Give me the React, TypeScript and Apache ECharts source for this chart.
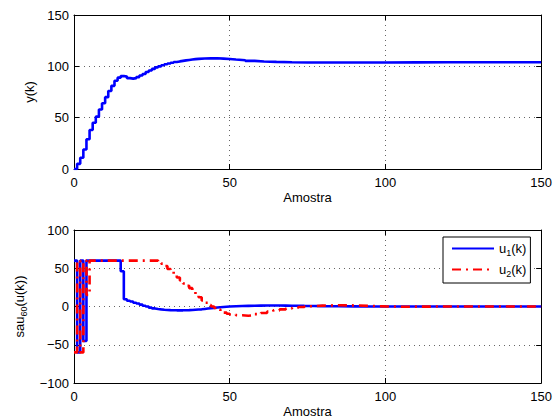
import React, { useEffect, useRef } from "react";
import * as echarts from "echarts";

// ---- Data ----
const xTicks = [0, 50, 100, 150];

const kTop = [
  0, 1, 2, 3, 4, 5, 6, 7, 8, 9, 10, 11, 12, 13, 14, 15, 16, 17, 18, 19, 20,
  21, 22, 23, 24, 25, 26, 27, 28, 29, 30, 31, 32, 33, 34, 35, 36, 37, 38, 39, 40,
  42, 44, 46, 48, 50, 52, 55, 58, 61, 65, 70, 75, 80, 90, 100, 110, 120, 130, 140, 150,
];
const yTop = [
  0, 5, 11, 19, 29, 38, 45, 51, 58, 64, 70, 76, 81, 86, 89, 90.5, 90, 88.5, 88, 88.5, 89.5,
  91, 92.5, 94.5, 96, 97.5, 99, 100, 101, 102, 102.8, 103.5, 104.2, 104.8, 105.3, 105.8, 106.2, 106.6, 107, 107.3, 107.6,
  107.8, 107.8, 107.5, 107.1, 106.6, 106, 105.3, 104.7, 104.3, 104, 103.8, 103.7, 103.7, 103.8, 103.9, 104, 104, 104, 104, 104,
];

const kBot = [
  0, 1, 2, 3, 4, 5, 6, 7, 8, 9, 10, 11, 12, 13, 14, 15, 16, 17, 18, 19,
  20, 21, 22, 23, 24, 25, 26, 27, 28, 29, 30, 31, 32, 33, 34, 35, 36, 37, 38, 39,
  40, 41, 42, 43, 44, 45, 46, 47, 48, 49, 50,
  52, 54, 56, 58, 60, 62, 64, 66, 68, 70, 72, 74, 77, 80, 85, 90, 95, 100, 105, 110, 120, 130, 140, 150,
];
const u1 = [
  60, -60, 60, -45, 60, 60, 60, 60, 60, 60, 60, 60, 60, 60, 60, 46, 9.5, 7.5, 6.5, 5,
  4, 2.5, 1, 0, -1.5, -2.5, -3.2, -3.8, -4.3, -4.6, -4.8, -4.9, -5, -5, -5, -4.9, -4.8, -4.6, -4.3, -4,
  -3.7, -3.2, -2.7, -2.2, -1.8, -1.4, -1, -0.6, -0.3, 0, 0.3,
  0.6, 0.8, 1, 1.2, 1.3, 1.3, 1.3, 1.2, 1, 0.9, 0.8, 0.7, 0.5, 0.3, 0.2, 0, 0, 0, 0, 0, 0, 0, 0, 0,
];
const u2 = [
  -60, 60, -60, 60, 15, 60, 60, 60, 60, 60, 60, 60, 60, 60, 60, 60, 60, 60, 60, 60,
  60, 60, 60, 60, 60, 60, 60, 59, 56, 53, 49, 46, 42, 38, 34, 30, 27, 24, 21, 16,
  12, 8, 5, 2, 0, -2, -4, -6, -8, -9.5, -10.5,
  -11.5, -12, -11.5, -10, -8.5, -6.7, -5, -3.8, -2.7, -1.6, -0.6, 0.4, 1.2, 1.6, 1.4, 0.8, 0.2, -0.3, -0.2, 0, 0, 0, 0, 0,
];

const FONT = "Liberation Sans";
const fmt = (v: number) => String(v).replace("-", "\u2212");

export default function App() {
  const ref = useRef<HTMLDivElement>(null);
  useEffect(() => {
    if (!ref.current) return;
    const chart = echarts.init(ref.current, undefined, { renderer: "svg" });

    const grids = [
      { left: 74, top: 15, width: 468, height: 154 },
      { left: 74, top: 230, width: 468, height: 154 },
    ];
    const tick = { show: true, inside: true, length: 5, lineStyle: { color: "#000", width: 1 } };
    const axisLine = { show: true, onZero: false, lineStyle: { color: "#000", width: 1 } };
    const split = { show: true, lineStyle: { color: "#666", type: [1, 4], width: 1 } };
    const label = { color: "#000", fontSize: 13, fontFamily: FONT };

    const mkX = (g: number, primary: boolean): any => ({
      type: "value",
      gridIndex: g,
      position: primary ? "bottom" : "top",
      min: xTicks[0],
      max: xTicks[xTicks.length - 1],
      interval: 50,
      axisLine,
      axisTick: tick,
      splitLine: primary ? split : { show: false },
      axisLabel: primary ? { ...label, margin: 7 } : { show: false },
      name: primary ? "Amostra" : "",
      nameLocation: "middle",
      nameGap: 22,
      nameTextStyle: { color: "#000", fontSize: 13, fontFamily: FONT },
    });
    const mkY = (g: number, primary: boolean, min: number, max: number, name: any): any => ({
      type: "value",
      gridIndex: g,
      position: primary ? "left" : "right",
      min,
      max,
      interval: 50,
      axisLine,
      axisTick: tick,
      splitLine: primary ? split : { show: false },
      axisLabel: primary ? { ...label, margin: 5, formatter: fmt } : { show: false },
      name: primary ? name : "",
      nameLocation: "middle",
      nameGap: name && primary && g === 1 ? 46 : 35,
      nameTextStyle: {
        color: "#000",
        fontSize: 13,
        fontFamily: FONT,
        rich: {
          a: { fontSize: 13, fontFamily: FONT, color: "#000" },
          s: { fontSize: 9, fontFamily: FONT, color: "#000", padding: [8, 0, 0, 0] },
        },
      },
    });

    chart.setOption({
      animation: false,
      backgroundColor: "#fff",
      grid: grids,
      xAxis: [mkX(0, true), mkX(0, false), mkX(1, true), mkX(1, false)],
      yAxis: [
        mkY(0, true, 0, 150, "y(k)"),
        mkY(0, false, 0, 150, ""),
        mkY(1, true, -100, 100, "{a|sau}{s|60}{a|(u(k))}"),
        mkY(1, false, -100, 100, ""),
      ],
      legend: {
        data: ["u1", "u2"],
        orient: "vertical",
        left: 443,
        top: 237,
        padding: [5, 4, 5, 8],
        itemGap: 6,
        itemWidth: 42,
        itemHeight: 14,
        backgroundColor: "#fff",
        borderColor: "#000",
        borderWidth: 1,
        borderRadius: 0,
        itemStyle: { opacity: 0, borderWidth: 0 },
        lineStyle: { width: 2 },
        formatter: (n: string) => (n === "u1" ? "{a|u}{s|1}{a|(k)}" : "{a|u}{s|2}{a|(k)}"),
        textStyle: {
          color: "#000",
          fontSize: 13,
          fontFamily: FONT,
          rich: {
            a: { fontSize: 13, fontFamily: FONT, color: "#000" },
            s: { fontSize: 9, fontFamily: FONT, color: "#000", padding: [8, 0, 0, 0] },
          },
        },
      },
      series: [
        {
          name: "y",
          type: "line",
          step: "end",
          xAxisIndex: 0,
          yAxisIndex: 0,
          symbol: "none",
          data: kTop.map((k, i) => [k, yTop[i]]),
          lineStyle: { color: "#0000ff", width: 2.6 },
          itemStyle: { color: "#0000ff" },
        },
        {
          name: "u1",
          type: "line",
          step: "end",
          xAxisIndex: 2,
          yAxisIndex: 2,
          symbol: "none",
          data: kBot.map((k, i) => [k, u1[i]]),
          lineStyle: { color: "#0000ff", width: 2.6 },
          itemStyle: { color: "#0000ff" },
        },
        {
          name: "u2",
          type: "line",
          step: "end",
          xAxisIndex: 2,
          yAxisIndex: 2,
          symbol: "none",
          data: kBot.map((k, i) => [k, u2[i]]),
          lineStyle: { color: "#ff0000", width: 2.6, type: [9, 5, 2, 5] },
          itemStyle: { color: "#ff0000" },
        },
      ],
    });
    return () => chart.dispose();
  }, []);
  return (
    <div
      ref={ref}
      style={{ position: "fixed", left: 0, top: 0, width: 555, height: 419, background: "#fff" }}
    />
  );
}
